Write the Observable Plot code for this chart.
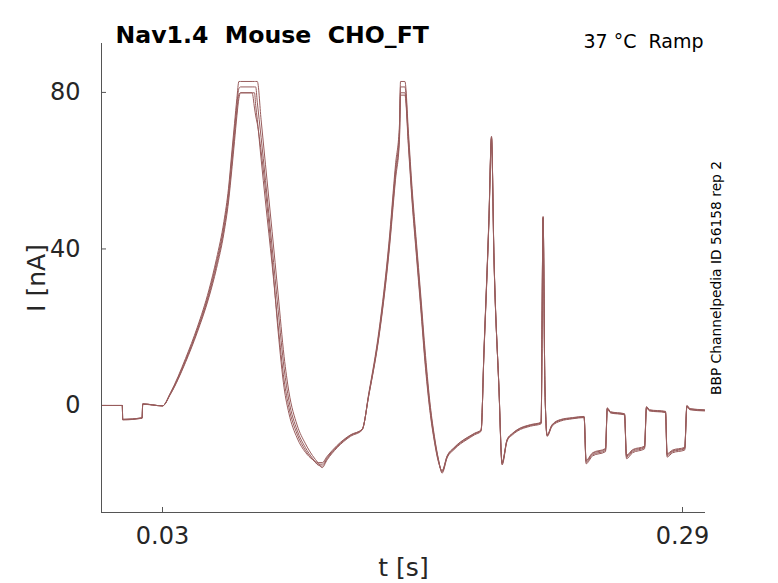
<!DOCTYPE html>
<html>
<head>
<meta charset="utf-8">
<script src="https://cdn.jsdelivr.net/npm/d3@7"></script>
<script src="https://cdn.jsdelivr.net/npm/@observablehq/plot@0.6"></script>
<style>
  html, body { margin: 0; padding: 0; background: #fff; }
  svg text { white-space: pre; }
</style>
</head>
<body>
<div id="chart"></div>
<script>
// Time points (s), shared by all traces
const time = [
  0, 0.0099, 0.0101, 0.0198, 0.0201, 0.0300,
  0.0340, 0.0415, 0.0474, 0.0532, 0.0570, 0.0607, 0.0630, 0.0648, 0.0660, 0.0672, 0.0682, 0.0690,
  0.0748, 0.0760, 0.0766, 0.0774, 0.0793, 0.0815, 0.0848, 0.0878, 0.0908, 0.0932, 0.0973, 0.1015, 0.1050, 0.1080, 0.1098,
  0.1123, 0.1173, 0.1240, 0.1298,
  0.1332, 0.1382, 0.1432, 0.1465, 0.1485, 0.1490, 0.1512,
  0.1530, 0.1548, 0.1570, 0.1590, 0.1615, 0.1640, 0.1660, 0.1680, 0.1698,
  0.1723, 0.1757, 0.1790, 0.1823, 0.1860, 0.1893,
  0.1907, 0.1932, 0.1945, 0.1957, 0.1982, 0.1998,
  0.2023, 0.2050, 0.2073, 0.2140, 0.2193,
  0.2203, 0.2212, 0.2223,
  0.2248, 0.2290, 0.2350, 0.2408,
  0.2418, 0.2450, 0.2515,
  0.2524, 0.2540, 0.2610,
  0.2620, 0.2650, 0.2710,
  0.2720, 0.2735, 0.2815,
  0.2823, 0.2850, 0.2911,
  0.2922, 0.2937, 0.3010
];

// Current traces (nA)
const traceA = [
  0, 0, -3.6, -3.3, 0.4, -0.1,
  3.3, 12.0, 20.0, 29.5, 37.5, 47.0, 55.5, 65.5, 72.0, 78.5, 82.8, 82.8,
  82.8, 82.8, 82.8, 82.8, 73.0, 61.5, 44.5, 28.5, 12.5, 3.5, -5.0, -9.8, -12.8, -14.8, -15.9,
  -13.9, -10.8, -7.9, -6.3,
  3.3, 19.0, 41.5, 61.5, 72.0, 82.8, 82.8,
  69.5, 55.5, 41.5, 29.0, 12.8, -0.5, -8.0, -13.8, -17.3,
  -13.4, -11.3, -9.8, -8.7, -7.5, -6.6,
  13.5, 47.8, 68.8, 39.0, 4.5, -15.2,
  -9.1, -7.5, -6.6, -5.3, -4.7,
  48.3, 5.0, -7.9,
  -5.3, -4.0, -3.4, -3.1,
  -14.9, -12.9, -11.8,
  -0.9, -1.9, -2.4,
  -13.6, -12.1, -11.1,
  -0.6, -1.4, -1.8,
  -13.2, -12.1, -11.4,
  -0.3, -1.1, -1.4
];
const traceB = [
  0, 0, -3.5, -3.2, 0.4, -0.1,
  3.1, 11.6, 19.5, 28.8, 36.6, 45.9, 54.3, 64.0, 70.5, 77.0, 81.0, 81.4,
  81.4, 81.4, 81.4, 77.5, 68.5, 57.5, 40.5, 24.5, 9.5, 1.3, -6.3, -10.8, -13.5, -15.3, -15.5,
  -13.6, -10.6, -7.7, -6.2,
  3.0, 18.3, 40.5, 60.0, 70.5, 81.4, 81.4,
  68.0, 54.1, 40.2, 27.7, 11.5, -1.3, -8.5, -14.0, -17.0,
  -13.2, -11.1, -9.6, -8.5, -7.3, -6.4,
  13.3, 47.3, 68.6, 38.8, 4.7, -14.9,
  -8.9, -7.3, -6.4, -5.1, -4.5,
  48.1, 5.0, -7.7,
  -5.1, -3.8, -3.3, -3.0,
  -14.5, -12.6, -11.5,
  -0.8, -1.8, -2.3,
  -13.2, -11.8, -10.8,
  -0.5, -1.3, -1.7,
  -12.8, -11.8, -11.1,
  -0.2, -1.0, -1.3
];
const traceC = [
  0, 0, -3.7, -3.2, 0.3, -0.1,
  3.0, 11.3, 19.1, 28.2, 35.8, 45.0, 53.2, 62.5, 69.0, 75.5, 79.5, 79.9,
  79.9, 79.9, 76.7, 73.0, 63.0, 52.0, 36.0, 20.5, 6.5, -0.5, -7.3, -11.5, -13.8, -15.0, -15.0,
  -13.3, -10.4, -7.6, -6.1,
  2.8, 17.8, 39.6, 58.8, 69.0, 79.9, 79.9,
  66.8, 53.0, 39.0, 26.5, 10.4, -2.0, -9.0, -14.3, -16.8,
  -13.0, -10.9, -9.4, -8.3, -7.2, -6.3,
  13.0, 47.0, 68.4, 38.5, 4.8, -14.7,
  -8.8, -7.2, -6.3, -5.0, -4.4,
  47.9, 5.0, -7.6,
  -5.0, -3.7, -3.2, -2.9,
  -14.2, -12.3, -11.2,
  -0.7, -1.7, -2.2,
  -12.9, -11.5, -10.6,
  -0.4, -1.2, -1.6,
  -12.5, -11.6, -10.9,
  -0.1, -0.9, -1.2
];
const traceD = [
  0, 0, -3.6, -3.1, 0.4, -0.1,
  2.9, 11.0, 18.7, 27.6, 35.0, 44.0, 52.0, 61.0, 67.5, 74.0, 78.5, 79.9,
  79.9, 76.0, 74.0, 72.0, 65.0, 55.0, 37.5, 19.0, 4.5, -2.0, -8.3, -12.0, -13.8, -14.6, -14.6,
  -13.0, -10.2, -7.5, -6.1,
  2.7, 17.4, 38.8, 57.7, 68.0, 79.3, 79.3,
  65.8, 52.0, 38.0, 25.5, 9.5, -2.6, -9.4, -14.5, -16.6,
  -12.9, -10.8, -9.3, -8.2, -7.1, -6.2,
  12.8, 46.8, 68.2, 38.3, 4.9, -14.5,
  -8.7, -7.1, -6.2, -4.9, -4.3,
  47.7, 5.0, -7.5,
  -4.9, -3.6, -3.1, -2.8,
  -14.0, -12.1, -11.0,
  -0.6, -1.6, -2.1,
  -12.7, -11.3, -10.4,
  -0.3, -1.1, -1.5,
  -12.3, -11.4, -10.7,
  0.0, -0.8, -1.1
];

const traceNames = ["A", "B", "C", "D"];
const traceValues = [traceA, traceB, traceC, traceD];

const xTicks = [0.03, 0.29];
const yTicks = [0, 40, 80];
const xDomain = [-0.0005, 0.3015];
const yDomain = [-27.35, 92.5];

const titleText = "Nav1.4  Mouse  CHO_FT";
const conditionText = "37 °C  Ramp";
const sideText = "BBP Channelpedia ID 56158 rep 2";
const xLabel = "t [s]";
const yLabel = "I [nA]";

const rows = [];
traceValues.forEach((vals, k) => {
  vals.forEach((v, i) => rows.push({trace: traceNames[k], t: time[i], I: v}));
});

const lineColor = "#985c5c";
const axisColor = "#555555";
const textColor = "#262626";
const tickLenX = 0.0025;   // 5 px in x units
const tickLenY = 1.28;     // 5 px in y units

const chart = Plot.plot({
  width: 778,
  height: 583,
  marginLeft: 101,
  marginRight: 73,
  marginTop: 43,
  marginBottom: 71,
  style: {fontFamily: "DejaVu Sans, sans-serif", background: "#fff", color: textColor},
  x: {domain: xDomain},
  y: {domain: yDomain},
  marks: [
    Plot.ruleX([xDomain[0]], {stroke: axisColor, strokeWidth: 1}),
    Plot.ruleY([yDomain[0]], {stroke: axisColor, strokeWidth: 1}),
    Plot.ruleX(xTicks, {y1: yDomain[0], y2: yDomain[0] + tickLenY, stroke: axisColor}),
    Plot.ruleY(yTicks, {x1: xDomain[0], x2: xDomain[0] + tickLenX, stroke: axisColor}),
    Plot.axisX({ticks: xTicks, tickSize: 0, tickPadding: 14, fontSize: 24, label: null, tickFormat: d => d.toFixed(2), color: textColor}),
    Plot.axisY({ticks: yTicks, tickSize: 0, tickPadding: 21, fontSize: 24, label: null, color: textColor}),
    Plot.line(rows, {x: "t", y: "I", z: "trace", stroke: lineColor, strokeWidth: 1, curve: "monotone-x"}),
    Plot.text([titleText], {text: d => d, frameAnchor: "top-left", textAnchor: "start", lineAnchor: "bottom", dx: 14, dy: -1, fontSize: 23.6, fontWeight: "bold", fill: "#000"}),
    Plot.text([conditionText], {text: d => d, frameAnchor: "top-right", textAnchor: "end", lineAnchor: "bottom", dx: -2, dy: 4, fontSize: 19, fill: "#000"}),
    Plot.text([sideText], {text: d => d, frameAnchor: "right", textAnchor: "middle", lineAnchor: "middle", rotate: -90, dx: 11, fontSize: 13.8, fill: "#000"}),
    Plot.text([xLabel], {text: d => d, frameAnchor: "bottom", textAnchor: "middle", lineAnchor: "bottom", dy: 63, fontSize: 25, fill: textColor}),
    Plot.text([yLabel], {text: d => d, frameAnchor: "left", textAnchor: "middle", lineAnchor: "middle", rotate: -90, dx: -65, fontSize: 25, fill: textColor})
  ]
});
document.getElementById("chart").appendChild(chart);
</script>
</body>
</html>
